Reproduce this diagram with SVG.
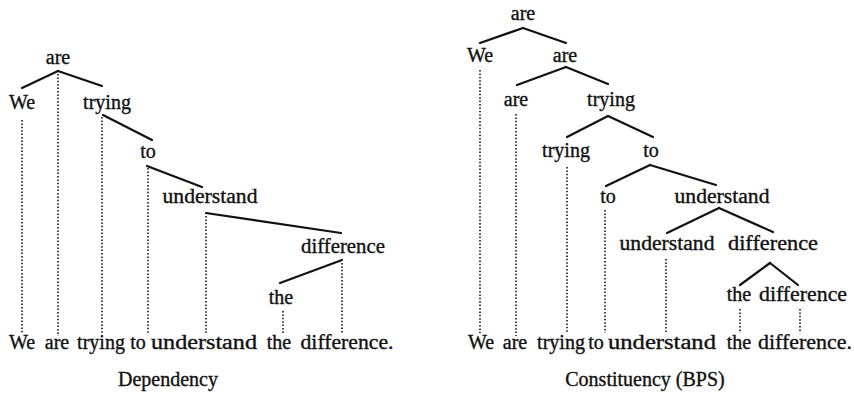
<svg xmlns="http://www.w3.org/2000/svg" width="854" height="395" viewBox="0 0 854 395">
<style>
  text { font-family: "Liberation Serif", "Times New Roman", serif; font-size: 20px; fill: #111; stroke: #111; stroke-width: 0.35; text-anchor: middle; }
  .edge { stroke: #111; stroke-width: 2.2; fill: none; stroke-linecap: round; }
  .dot { stroke: #222; stroke-width: 1.7; stroke-dasharray: 1.5 1.9; fill: none; }
</style>
<rect width="854" height="395" fill="#fff"/>

<!-- Dependency tree -->
<g id="dep-connectors">
  <line class="edge" x1="58" y1="71" x2="22" y2="88"/>
  <line class="edge" x1="58" y1="71" x2="102" y2="86"/>
  <line class="edge" x1="103" y1="115" x2="152" y2="140"/>
  <line class="edge" x1="147" y1="166" x2="202" y2="187"/>
  <line class="edge" x1="206" y1="213" x2="341" y2="233"/>
  <line class="edge" x1="342" y1="260" x2="280" y2="283"/>
  <line class="dot" x1="22" y1="120" x2="22" y2="334"/>
  <line class="dot" x1="58" y1="74" x2="58" y2="336"/>
  <line class="dot" x1="102" y1="117" x2="102" y2="333"/>
  <line class="dot" x1="148" y1="168" x2="148" y2="333"/>
  <line class="dot" x1="206" y1="216" x2="206" y2="333"/>
  <line class="dot" x1="342" y1="263" x2="342" y2="333"/>
  <line class="dot" x1="283" y1="311" x2="283" y2="333"/>
</g>
<g id="dep-are"><text x="58" y="64">are</text></g>
<g id="dep-we"><text x="22" y="109">We</text></g>
<g id="dep-trying"><text x="107" y="109">trying</text></g>
<g id="dep-to"><text x="148" y="158">to</text></g>
<g id="dep-understand"><text x="210" y="203" textLength="95" lengthAdjust="spacingAndGlyphs">understand</text></g>
<g id="dep-difference"><text x="343" y="253" textLength="84" lengthAdjust="spacingAndGlyphs">difference</text></g>
<g id="dep-the"><text x="281" y="304">the</text></g>
<g id="dep-sentence">
  <text x="22" y="349">We</text>
  <text x="57" y="349">are</text>
  <text x="101" y="349">trying</text>
  <text x="138" y="349">to</text>
  <text x="204" y="349" textLength="106" lengthAdjust="spacingAndGlyphs">understand</text>
  <text x="279" y="349">the</text>
  <text x="347" y="349" textLength="93" lengthAdjust="spacingAndGlyphs">difference.</text>
</g>
<g id="dep-caption"><text x="168" y="386">Dependency</text></g>

<!-- Constituency tree -->
<g id="bps-connectors">
  <line class="edge" x1="523" y1="28" x2="480" y2="43"/>
  <line class="edge" x1="523" y1="28" x2="566" y2="43"/>
  <line class="edge" x1="566" y1="67" x2="517" y2="85"/>
  <line class="edge" x1="566" y1="67" x2="608" y2="84"/>
  <line class="edge" x1="608" y1="116" x2="567" y2="137"/>
  <line class="edge" x1="608" y1="116" x2="653" y2="137"/>
  <line class="edge" x1="650" y1="165" x2="606" y2="186"/>
  <line class="edge" x1="650" y1="165" x2="716" y2="185"/>
  <line class="edge" x1="719" y1="208" x2="667" y2="233"/>
  <line class="edge" x1="719" y1="208" x2="773" y2="232"/>
  <line class="edge" x1="770" y1="263" x2="740" y2="285"/>
  <line class="edge" x1="770" y1="263" x2="798" y2="285"/>
  <line class="dot" x1="480" y1="70" x2="480" y2="334"/>
  <line class="dot" x1="516" y1="114" x2="516" y2="336"/>
  <line class="dot" x1="567" y1="167" x2="567" y2="333"/>
  <line class="dot" x1="605" y1="210" x2="605" y2="333"/>
  <line class="dot" x1="666" y1="259" x2="666" y2="333"/>
  <line class="dot" x1="740" y1="309" x2="740" y2="333"/>
  <line class="dot" x1="800" y1="309" x2="800" y2="333"/>
</g>
<g id="bps-are-1"><text x="523" y="20">are</text></g>
<g id="bps-we"><text x="480" y="62">We</text></g>
<g id="bps-are-2"><text x="565" y="62">are</text></g>
<g id="bps-are-3"><text x="516" y="106">are</text></g>
<g id="bps-trying-1"><text x="611" y="106">trying</text></g>
<g id="bps-trying-2"><text x="566" y="157">trying</text></g>
<g id="bps-to-1"><text x="651" y="157">to</text></g>
<g id="bps-to-2"><text x="608" y="203">to</text></g>
<g id="bps-understand-1"><text x="722" y="203" textLength="95" lengthAdjust="spacingAndGlyphs">understand</text></g>
<g id="bps-understand-2"><text x="667" y="250" textLength="95" lengthAdjust="spacingAndGlyphs">understand</text></g>
<g id="bps-difference-1"><text x="773" y="250" textLength="90" lengthAdjust="spacingAndGlyphs">difference</text></g>
<g id="bps-the"><text x="739" y="301">the</text></g>
<g id="bps-difference-2"><text x="803" y="301" textLength="88" lengthAdjust="spacingAndGlyphs">difference</text></g>
<g id="bps-sentence">
  <text x="481" y="349">We</text>
  <text x="515" y="349">are</text>
  <text x="561" y="349">trying</text>
  <text x="596" y="349">to</text>
  <text x="662" y="349" textLength="108" lengthAdjust="spacingAndGlyphs">understand</text>
  <text x="739" y="349">the</text>
  <text x="805" y="349" textLength="94" lengthAdjust="spacingAndGlyphs">difference.</text>
</g>
<g id="bps-caption"><text x="645" y="386">Constituency (BPS)</text></g>
</svg>
